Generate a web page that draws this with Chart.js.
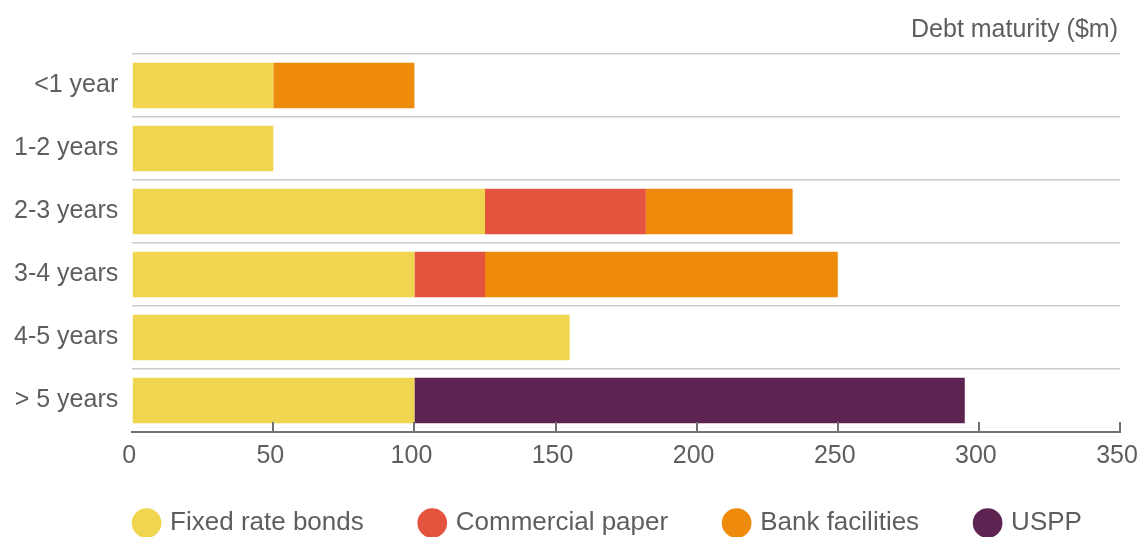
<!DOCTYPE html>
<html>
<head>
<meta charset="utf-8">
<script src="https://cdn.jsdelivr.net/npm/chart.js@4/dist/chart.umd.min.js"></script>
<style>
  html, body { margin: 0; padding: 0; background: #ffffff; }
  #wrap { width: 1140px; height: 537px; }
</style>
</head>
<body>
<div id="wrap"><canvas id="c" width="1140" height="537"></canvas></div>
<script>
// ---- data ----
const categories = ['<1 year', '1-2 years', '2-3 years', '3-4 years', '4-5 years', '> 5 years'];
const fixedRateBonds = [50, 50, 125, 100, 155, 100];
const commercialPaper = [0, 0, 57, 25, 0, 0];
const bankFacilities = [50, 0, 52, 125, 0, 0];
const uspp = [0, 0, 0, 0, 0, 195];
const xTickValues = [0, 50, 100, 150, 200, 250, 300, 350];
const seriesNames = ['Fixed rate bonds', 'Commercial paper', 'Bank facilities', 'USPP'];
const titleText = 'Debt maturity ($m)';

// ---- styles ----
const colors = ['#F0D550', '#E3533E', '#EE8A0C', '#5E2451'];
const textColor = '#5e5e5e';
const fontFamily = '"Liberation Sans", Arial, Helvetica, sans-serif';
const FS = 25;
const LEGEND_FS = 26;

const LEGEND_H = 57;
const LEGEND_DX = 39;
const LEGEND_DY = 28;
const TITLE_DX = -22;

const tickMarks = {
  id: 'tickMarks',
  afterDraw(chart) {
    const s = chart.scales.x;
    const ctx = chart.ctx;
    ctx.save();
    ctx.strokeStyle = '#707070';
    ctx.lineWidth = 2;
    s.ticks.forEach(t => {
      if (t.value === 0) return;
      const x = Math.round(s.getPixelForValue(t.value));
      ctx.beginPath();
      ctx.moveTo(x, chart.chartArea.bottom);
      ctx.lineTo(x, chart.chartArea.bottom - 10);
      ctx.stroke();
    });
    ctx.restore();
  }
};

const layoutTune = {
  id: 'layoutTune',
  beforeLayout(chart) {
    const lg = chart.legend;
    if (lg && !lg._tuned) {
      const fit = lg.fit;
      lg.fit = function () { fit.call(this); this.height = LEGEND_H; };
      lg._tuned = true;
    }
  },
  afterLayout(chart) {
    const lg = chart.legend;
    if (lg) {
      lg.left += LEGEND_DX; lg.right += LEGEND_DX;
      lg.top -= LEGEND_DY;
    }
    const tb = chart.titleBlock;
    if (tb) { tb.left += TITLE_DX; tb.right += TITLE_DX; }
  }
};

const seriesData = [fixedRateBonds, commercialPaper, bankFacilities, uspp];

new Chart(document.getElementById('c'), {
  type: 'bar',
  data: {
    labels: categories,
    datasets: seriesNames.map((name, i) => ({
      label: name,
      data: seriesData[i],
      backgroundColor: colors[i],
      borderWidth: 0,
      barPercentage: 0.72,
      categoryPercentage: 1.0
    }))
  },
  options: {
    indexAxis: 'y',
    responsive: false,
    animation: false,
    layout: { padding: { left: 0, right: 0, top: 0, bottom: 0 } },
    scales: {
      x: {
        stacked: true,
        min: 0,
        max: 350,
        afterBuildTicks(scale) { scale.ticks = xTickValues.map(v => ({ value: v })); },
        afterFit(scale) { scale.paddingRight = 20; },
        ticks: {
          color: textColor,
          font: { family: fontFamily, size: FS },
          padding: 9,
          labelOffset: -3,
          maxRotation: 0
        },
        grid: { drawOnChartArea: false, drawTicks: false },
        border: { display: true, color: '#707070', width: 2 }
      },
      y: {
        stacked: true,
        ticks: {
          color: textColor,
          font: { family: fontFamily, size: FS },
          padding: 14
        },
        grid: { offset: true, drawTicks: false, color: '#cccccc', lineWidth: 1.5 },
        border: { display: false }
      }
    },
    plugins: {
      title: {
        display: true,
        text: titleText,
        align: 'end',
        color: textColor,
        font: { family: fontFamily, size: FS, weight: 'normal' },
        padding: { top: 15, bottom: 9 }
      },
      legend: {
        position: 'bottom',
        labels: {
          usePointStyle: true,
          pointStyle: 'circle',
          boxHeight: 21,
          boxWidth: 21,
          padding: 58,
          color: textColor,
          font: { family: fontFamily, size: LEGEND_FS }
        }
      },
      tooltip: { enabled: false }
    }
  },
  plugins: [tickMarks, layoutTune]
});
</script>
</body>
</html>
